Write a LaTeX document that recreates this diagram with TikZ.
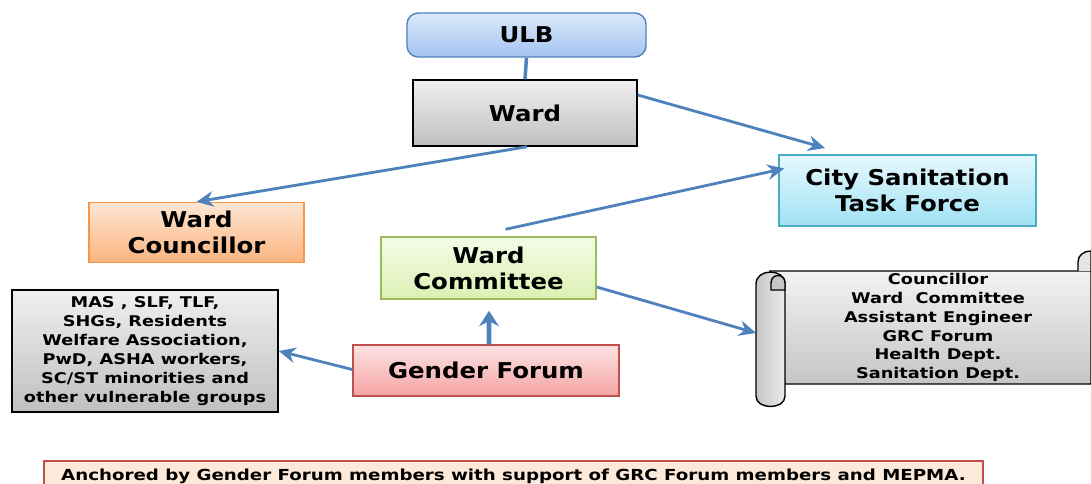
\documentclass[tikz,border=0pt]{standalone}
\usepackage{fontspec}
\setmainfont{DejaVu Sans}
\newfontfamily\bigfont[FakeStretch=1.12]{DejaVu Sans}
\newfontfamily\smallfont[FakeStretch=1.2]{DejaVu Sans}
\usetikzlibrary{arrows.meta,calc}

\definecolor{arrowblue}{HTML}{4F81BD}
\definecolor{ulbtop}{HTML}{DCE9FB}
\definecolor{ulbbot}{HTML}{A3C4F0}
\definecolor{cstftop}{HTML}{E6F8FD}
\definecolor{cstfbot}{HTML}{9FE2F5}
\definecolor{cstfline}{HTML}{4BACC6}
\definecolor{counctop}{HTML}{FDE6D4}
\definecolor{councbot}{HTML}{FBB47E}
\definecolor{councline}{HTML}{F79646}
\definecolor{commtop}{HTML}{F4FBE6}
\definecolor{commbot}{HTML}{DCF0B4}
\definecolor{commline}{HTML}{9BBB59}
\definecolor{gendtop}{HTML}{FDE2E2}
\definecolor{gendbot}{HTML}{F4A3A3}
\definecolor{gendline}{HTML}{C0504D}
\definecolor{notefill}{HTML}{FDE9D9}

\begin{document}
\begin{tikzpicture}[x=0.025cm, y=-0.025cm,
        bigbox/.style={draw, line width=1pt, inner sep=0pt, align=center,
            font=\bigfont\bfseries\fontsize{15.5}{18.5}\selectfont},
        greybox/.style={draw=black, top color=gray!12, bottom color=gray!50},
        smalltext/.style={align=center, inner sep=0pt,
            font=\smallfont\bfseries\fontsize{10.5}{13.4}\selectfont},
        link/.style={draw=arrowblue, line width=2pt, -{Stealth[length=12pt,width=11pt]}}]
        \useasboundingbox (0,0) rectangle (1091,483);

        % boxes
        \node[bigbox, rounded corners=8pt, draw=arrowblue, top color=ulbtop, bottom color=ulbbot,
            minimum width=5.975cm, minimum height=1.1cm] (ulb) at (526.5,35) {ULB};
        \node[bigbox, greybox, minimum width=5.6cm, minimum height=1.65cm] (ward) at (525,113) {Ward};
        \node[bigbox, draw=cstfline, top color=cstftop, bottom color=cstfbot,
            minimum width=6.425cm, minimum height=1.775cm] (cstf) at (907.5,190.5) {City Sanitation\\Task Force};
        \node[bigbox, draw=councline, top color=counctop, bottom color=councbot,
            minimum width=5.375cm, minimum height=1.5cm] (councillor) at (196.5,232.5) {Ward\\Councillor};
        \node[bigbox, draw=commline, top color=commtop, bottom color=commbot,
            minimum width=5.375cm, minimum height=1.55cm] (committee) at (488.5,268) {Ward\\Committee};
        \node[bigbox, greybox, smalltext, minimum width=6.65cm, minimum height=3.05cm] (groups) at (145,351)
            {MAS , SLF, TLF,\\SHGs, Residents\\Welfare Association,\\PwD, ASHA workers,\\SC/ST minorities and\\other vulnerable groups};
        \node[bigbox, draw=gendline, top color=gendtop, bottom color=gendbot,
            minimum width=6.65cm, minimum height=1.275cm] (gender) at (486,370.5) {Gender Forum};

        % scroll
        \path[draw=black, line width=1pt, top color=gray!10, bottom color=gray!45]
            (770,271) -- (1091,271) -- (1091,384) -- (785,384) -- cycle;
        \path[draw=black, line width=1pt, fill=gray!20]
            (1078,271) -- (1078,262) .. controls (1078,255) and (1084,251) .. (1091,251) -- (1091,271);
        \path[draw=black, line width=1pt, left color=gray!45, right color=gray!15]
            (756,284) -- (756,396) .. controls (756,410) and (785,410) .. (785,396)
            -- (785,284) .. controls (785,268) and (756,268) .. (756,284) -- cycle;
        \path[draw=black, line width=1pt, fill=gray!45]
            (771,290) -- (771,283) .. controls (771,273) and (785,273) .. (785,283) -- (785,290) -- cycle;
        \node[smalltext] (members) at (938,327.5)
            {Councillor\\Ward~~Committee\\Assistant Engineer\\GRC Forum\\Health Dept.\\Sanitation Dept.};
        \coordinate (scroll_in) at (756,333);

        % note
        \node[draw=gendline, fill=notefill, line width=1.2pt, inner sep=0pt,
            minimum width=23.475cm, minimum height=0.75cm,
            font=\smallfont\bfseries\fontsize{10.8}{12}\selectfont] (note) at (513.5,476)
            {Anchored by Gender Forum members with support of GRC Forum members and MEPMA.};

        % connectors
        \coordinate (cstf_in) at (825,148);
        \draw[draw=arrowblue, line width=2.5pt] (ulb.south) -- (ward.north);
        \draw[link] ($(ward.east)+(0,-18)$) -- (cstf_in);
        \draw[link] ($(ward.south)+(2,0)$) -- (councillor.north);
        \draw[link] ($(committee.north)+(17,-7)$) -- ($(cstf.west)+(6,-22)$);
        \draw[link] ($(committee.east)+(0,19)$) -- (scroll_in);
        \draw[draw=arrowblue, line width=3.5pt, -{Stealth[length=11pt,width=14pt]}]
            ($(gender.north)+(3,0)$) -- ($(committee.south)+(0.5,11)$);
        \draw[link] ($(gender.west)+(0,-1)$) -- (groups.east);
    \end{tikzpicture}
\end{document}
